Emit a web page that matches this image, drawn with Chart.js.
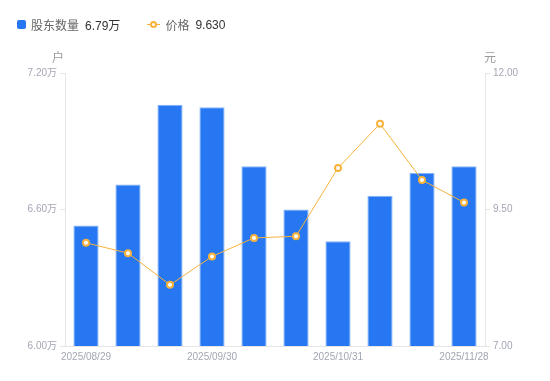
<!DOCTYPE html>
<html>
<head>
<meta charset="utf-8">
<script src="https://cdn.jsdelivr.net/npm/chart.js@4"></script>
<style>
  body { margin: 0; background: #fff; font-family: "Liberation Sans", "Noto Sans CJK SC", sans-serif; }
  .wrap { position: relative; width: 550px; height: 381px; }
  canvas { position: absolute; left: 0; top: 0; }
  .legend { position: absolute; left: 17px; top: 16px; font-size: 12px; display: flex; align-items: center; white-space: nowrap; }
  .legend .name { color: #666; margin-right: 6px; }
  .legend .val { color: #333; }
  .sq { width: 9px; height: 9px; border-radius: 2px; background: #2777f2; margin-right: 5px; }
  .ln { position: relative; width: 13px; height: 9px; margin-right: 5px; }
  .ln:before { content: ""; position: absolute; left: 0; right: 0; top: 4px; height: 1px; background: #f7b23b; }
  .ln:after { content: ""; position: absolute; left: 3px; top: 1px; width: 3px; height: 3px; border: 2px solid #f7b23b; border-radius: 50%; background: #fff; }
</style>
</head>
<body>
<div class="wrap">
  <canvas id="chart" width="550" height="381"></canvas>
  <div class="legend">
    <span class="sq"></span><span class="name">股东数量</span><span class="val">6.79万</span>
    <span style="width:27px"></span>
    <span class="ln"></span><span class="name">价格</span><span class="val">9.630</span>
  </div>
</div>
<script>
const dates = ["2025/08/29", "2025/09/10", "2025/09/19", "2025/09/30", "2025/10/10",
  "2025/10/20", "2025/10/31", "2025/11/10", "2025/11/20", "2025/11/28"];
const holders = [6.53, 6.71, 7.06, 7.05, 6.79, 6.60, 6.46, 6.66, 6.76, 6.79];
const prices = [8.89, 8.70, 8.12, 8.64, 8.98, 9.01, 10.26, 11.07, 10.04, 9.63];
const shownLabels = [0, 3, 6, 9];

const tickFont = { size: 10, family: "'Liberation Sans', 'Noto Sans CJK SC', sans-serif" };
const tickColor = "#a3a6b4";
const lineColor = "#e6e6e6";

const axisTitles = {
  id: "axisTitles",
  afterDraw(chart) {
    const ctx = chart.ctx;
    const y = chart.scales.y, y1 = chart.scales.y1;
    ctx.save();
    ctx.font = "12px 'Noto Sans CJK SC', sans-serif";
    ctx.fillStyle = "#999";
    ctx.textAlign = "center";
    ctx.textBaseline = "middle";
    ctx.fillText("户", y.right - 7, y.top - 16);
    ctx.fillText("元", y1.left + 5, y1.top - 16);
    ctx.restore();
  }
};

new Chart(document.getElementById("chart"), {
  data: {
    labels: dates,
    datasets: [
      {
        type: "line",
        label: "价格",
        data: prices,
        yAxisID: "y1",
        borderColor: "#f7b23b",
        borderWidth: 1,
        pointRadius: 3,
        pointBorderWidth: 2,
        pointBackgroundColor: "#fff",
        pointBorderColor: "#f7b23b",
        tension: 0,
        order: 0
      },
      {
        type: "bar",
        label: "股东数量",
        data: holders,
        yAxisID: "y",
        backgroundColor: "#2777f2",
        borderColor: "#86b3f7",
        borderWidth: 1,
        categoryPercentage: 1,
        barPercentage: 0.6,
        order: 1
      }
    ]
  },
  options: {
    responsive: false,
    animation: false,
    layout: { padding: { top: 73, left: 0, right: 0, bottom: 0 } },
    plugins: { legend: { display: false }, tooltip: { enabled: false } },
    scales: {
      x: {
        offset: true,
        grid: { display: false, drawTicks: false },
        border: { color: lineColor },
        ticks: {
          autoSkip: false,
          maxRotation: 0,
          padding: 5,
          color: tickColor,
          font: tickFont,
          callback: (v, i) => shownLabels.includes(i) ? dates[i] : ""
        },
        afterFit: (s) => { s.height = 35; }
      },
      y: {
        position: "left",
        min: 6.0,
        max: 7.2,
        grid: { drawOnChartArea: false, tickLength: 5, color: lineColor },
        border: { color: lineColor },
        ticks: {
          stepSize: 0.6,
          padding: 3,
          color: tickColor,
          font: tickFont,
          callback: (v) => v.toFixed(2) + "万"
        },
        afterFit: (s) => { s.width = 65; }
      },
      y1: {
        position: "right",
        min: 7,
        max: 12,
        grid: { drawOnChartArea: false, tickLength: 5, color: lineColor },
        border: { color: lineColor },
        ticks: {
          stepSize: 2.5,
          padding: 3,
          color: tickColor,
          font: tickFont,
          callback: (v) => v.toFixed(2)
        },
        afterFit: (s) => { s.width = 65; }
      }
    }
  },
  plugins: [axisTitles]
});
</script>
</body>
</html>
